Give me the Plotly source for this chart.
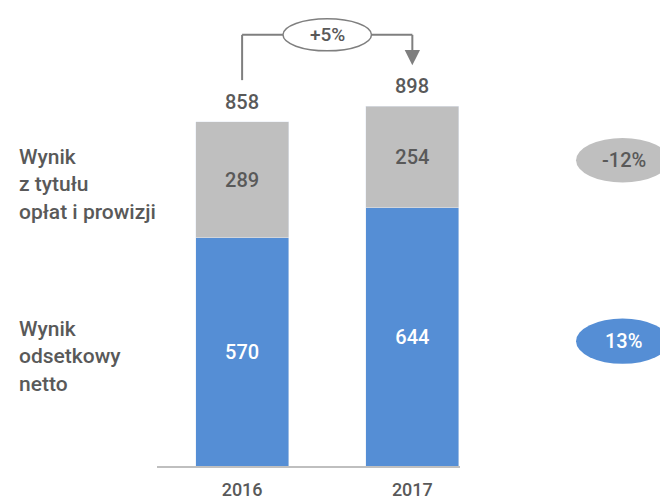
import plotly.graph_objects as go

# Data
years = ["2016", "2017"]
odsetkowy = [570, 644]
prowizje = [289, 254]
totals = [858, 898]

BLUE = "#558ED5"
GREY = "#BFBFBF"
TXT = "#595959"
FONT = "Roboto"

fig = go.Figure()

fig.add_trace(go.Bar(
    x=[0, 1], y=odsetkowy, marker_color=BLUE, width=0.546,
    text=odsetkowy, textposition="inside", insidetextanchor="middle",
    textfont=dict(color="white", size=20, family=FONT, weight=500),
    hoverinfo="skip",
))
fig.add_trace(go.Bar(
    x=[0, 1], y=prowizje, marker_color=GREY, width=0.546,
    text=prowizje, textposition="inside", insidetextanchor="middle",
    textfont=dict(color=TXT, size=20, family=FONT, weight=500),
    hoverinfo="skip",
))

# totals above bars
for i, t in enumerate(totals):
    fig.add_annotation(x=i, y=t, text=str(t), showarrow=False,
                       yanchor="bottom", yshift=6,
                       font=dict(size=20, color=TXT, family=FONT, weight=500))

# growth bracket between totals
growth = round((totals[1] / totals[0] - 1) * 100)
line = dict(color="#7F7F7F", width=2)
fig.add_shape(type="line", x0=0, x1=0, y0=963, y1=1076, line=line)
fig.add_shape(type="line", x0=0, x1=0.24, y0=1076, y1=1076, line=line)
fig.add_shape(type="line", x0=0.76, x1=1, y0=1076, y1=1076, line=line)
fig.add_shape(type="line", x0=1, x1=1, y0=1076, y1=1035, line=line)
fig.add_shape(type="path", path="M 0.955 1038 L 1.045 1038 L 1 1000 Z",
              fillcolor="#7F7F7F", line=dict(width=0))
fig.add_shape(type="circle", x0=0.24, x1=0.76, y0=1036, y1=1116,
              line=dict(color="#7F7F7F", width=1.5), fillcolor="white")
fig.add_annotation(x=0.5, y=1076, text=f"+{growth}%", showarrow=False,
                   font=dict(size=19, color=TXT, family=FONT, weight=500))

# left category labels
label_font = dict(size=21, color=TXT, family=FONT, weight=500)
fig.add_annotation(xref="paper", yref="paper", x=-0.462, y=0.615,
                   text="Wynik<br>z tytułu<br>opłat i prowizji",
                   showarrow=False, xanchor="left", yanchor="middle", align="left",
                   font=label_font)
fig.add_annotation(xref="paper", yref="paper", x=-0.462, y=0.24,
                   text="Wynik<br>odsetkowy<br>netto",
                   showarrow=False, xanchor="left", yanchor="middle", align="left",
                   font=label_font)

# right change bubbles
chg_prow = round((prowizje[1] / prowizje[0] - 1) * 100)
chg_ods = round((odsetkowy[1] / odsetkowy[0] - 1) * 100)
bubbles = [(f"{chg_prow}%", GREY, TXT, 0.619, 0.716),
           (f"{chg_ods}%", BLUE, "white", 0.223, 0.322)]
for label, fill, fc, y0, y1 in bubbles:
    fig.add_shape(type="circle", xref="paper", yref="paper",
                  x0=1.383, x1=1.69, y0=y0, y1=y1,
                  fillcolor=fill, line=dict(width=0))
    fig.add_annotation(xref="paper", yref="paper", x=1.54, y=(y0 + y1) / 2,
                       text=label, showarrow=False,
                       xanchor="center", yanchor="middle",
                       font=dict(size=20, color=fc, family=FONT, weight=500))

fig.update_layout(
    width=660, height=492,
    margin=dict(l=149, r=208, t=0, b=27),
    barmode="stack", showlegend=False,
    plot_bgcolor="white", paper_bgcolor="white",
    xaxis=dict(range=[-0.5, 1.28], tickmode="array", tickvals=[0, 1],
               ticktext=years, showgrid=False, zeroline=False,
               showline=True, linecolor=GREY, linewidth=2, ticks="",
               ticklabelstandoff=6,
               tickfont=dict(size=18, color=TXT, family=FONT, weight=500)),
    yaxis=dict(range=[0, 1143], visible=False, showgrid=False),
    uniformtext=dict(minsize=18, mode="show"),
)

fig.write_html("out.html")
